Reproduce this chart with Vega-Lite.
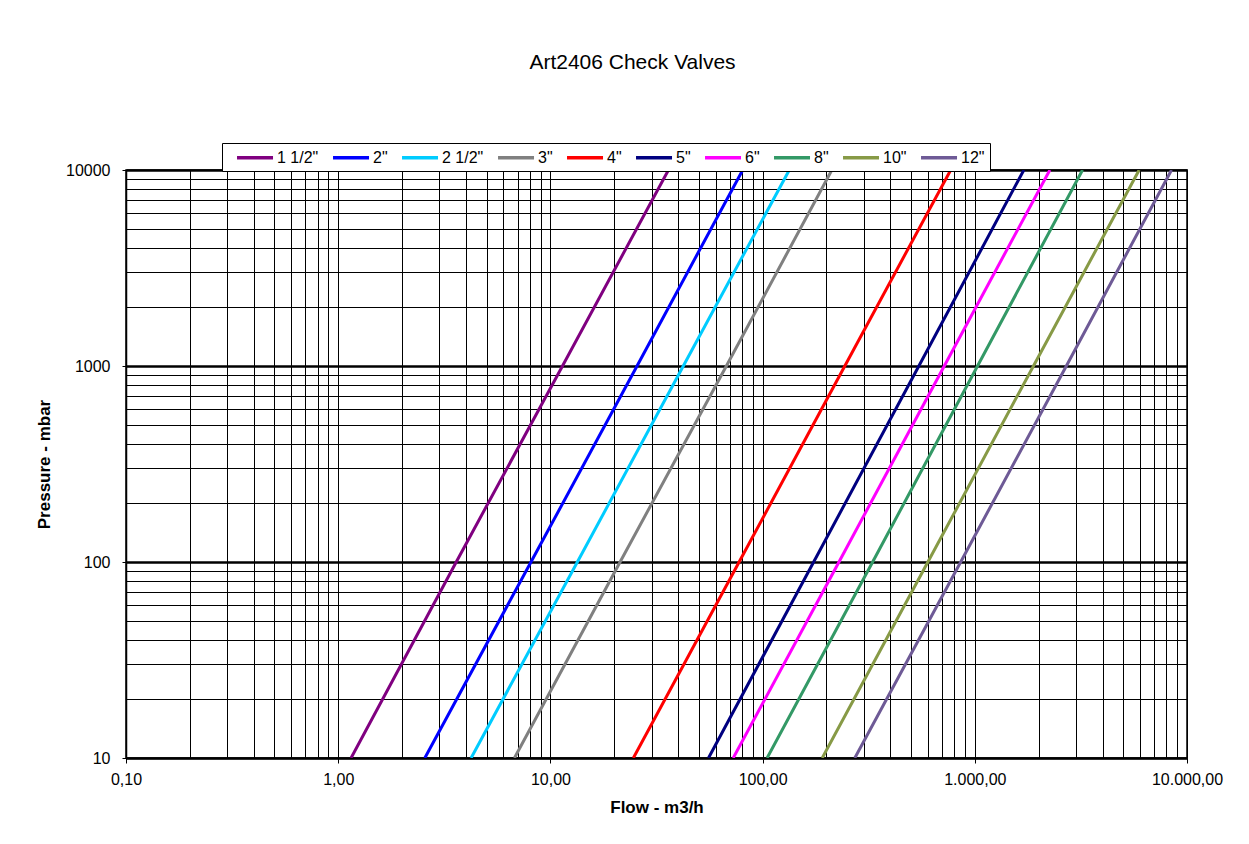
{
  "$schema": "https://vega.github.io/schema/vega-lite/v6.json",
  "width": 1061,
  "height": 588,
  "autosize": "none",
  "padding": {"left": 126, "top": 170, "right": 62, "bottom": 86},
  "background": "white",
  "title": {
    "text": "Art2406 Check Valves",
    "anchor": "middle",
    "frame": "group",
    "dx": -24,
    "offset": 70,
    "fontSize": 21,
    "fontWeight": "normal",
    "font": "Liberation Sans",
    "color": "black"
  },
  "data": {
    "values": [
      {"size": "1 1/2\"", "flow": 1.15, "pressure": 10},
      {"size": "1 1/2\"", "flow": 3.6, "pressure": 100},
      {"size": "1 1/2\"", "flow": 11.4, "pressure": 1000},
      {"size": "1 1/2\"", "flow": 36.0, "pressure": 10000},
      {"size": "2\"", "flow": 2.56, "pressure": 10},
      {"size": "2\"", "flow": 8.1, "pressure": 100},
      {"size": "2\"", "flow": 25.6, "pressure": 1000},
      {"size": "2\"", "flow": 80.6, "pressure": 10000},
      {"size": "2 1/2\"", "flow": 4.23, "pressure": 10},
      {"size": "2 1/2\"", "flow": 13.4, "pressure": 100},
      {"size": "2 1/2\"", "flow": 42.3, "pressure": 1000},
      {"size": "2 1/2\"", "flow": 133.6, "pressure": 10000},
      {"size": "3\"", "flow": 6.77, "pressure": 10},
      {"size": "3\"", "flow": 21.3, "pressure": 100},
      {"size": "3\"", "flow": 67.5, "pressure": 1000},
      {"size": "3\"", "flow": 212, "pressure": 10000},
      {"size": "4\"", "flow": 24.6, "pressure": 10},
      {"size": "4\"", "flow": 77.5, "pressure": 100},
      {"size": "4\"", "flow": 244, "pressure": 1000},
      {"size": "4\"", "flow": 770, "pressure": 10000},
      {"size": "5\"", "flow": 55.6, "pressure": 10},
      {"size": "5\"", "flow": 174, "pressure": 100},
      {"size": "5\"", "flow": 545, "pressure": 1000},
      {"size": "5\"", "flow": 1703, "pressure": 10000},
      {"size": "6\"", "flow": 72.7, "pressure": 10},
      {"size": "6\"", "flow": 229, "pressure": 100},
      {"size": "6\"", "flow": 718, "pressure": 1000},
      {"size": "6\"", "flow": 2258, "pressure": 10000},
      {"size": "8\"", "flow": 105, "pressure": 10},
      {"size": "8\"", "flow": 330, "pressure": 100},
      {"size": "8\"", "flow": 1030, "pressure": 1000},
      {"size": "8\"", "flow": 3219, "pressure": 10000},
      {"size": "10\"", "flow": 191, "pressure": 10},
      {"size": "10\"", "flow": 601, "pressure": 100},
      {"size": "10\"", "flow": 1890, "pressure": 1000},
      {"size": "10\"", "flow": 5949, "pressure": 10000},
      {"size": "12\"", "flow": 272, "pressure": 10},
      {"size": "12\"", "flow": 858, "pressure": 100},
      {"size": "12\"", "flow": 2700, "pressure": 1000},
      {"size": "12\"", "flow": 8453, "pressure": 10000}
    ]
  },
  "mark": {"type": "line", "strokeWidth": 3, "clip": true},
  "encoding": {
    "x": {
      "field": "flow",
      "type": "quantitative",
      "scale": {"type": "log", "domain": [0.1, 10000], "nice": false},
      "axis": {
        "title": "Flow - m3/h",
        "titleFont": "Liberation Sans",
        "titleFontSize": 17,
        "titleFontWeight": "bold",
        "titleColor": "black",
        "titlePadding": 12,
        "values": [0.1, 0.2, 0.3, 0.4, 0.5, 0.6, 0.7, 0.8, 0.9, 1, 2, 3, 4, 5, 6, 7, 8, 9, 10, 20, 30, 40, 50, 60, 70, 80, 90, 100, 200, 300, 400, 500, 600, 700, 800, 900, 1000, 2000, 3000, 4000, 5000, 6000, 7000, 8000, 9000, 10000],
        "labelExpr": "datum.value == 0.1 ? '0,10' : datum.value == 1 ? '1,00' : datum.value == 10 ? '10,00' : datum.value == 100 ? '100,00' : datum.value == 1000 ? '1.000,00' : datum.value == 10000 ? '10.000,00' : ''",
        "labelFont": "Liberation Sans",
        "labelFontSize": 16,
        "labelColor": "black",
        "labelPadding": 8,
        "labelFlush": false,
        "labelOverlap": false,
        "labelBound": false,
        "grid": true,
        "gridColor": "black",
        "gridOpacity": 1,
        "gridWidth": 1,
        "domain": true,
        "domainColor": "black",
        "domainWidth": 1.5,
        "tickColor": "black",
        "tickSize": 5,
        "tickOpacity": {"condition": {"test": "indexof([0.1,1,10,100,1000,10000], datum.value) >= 0", "value": 1}, "value": 0}
      }
    },
    "y": {
      "field": "pressure",
      "type": "quantitative",
      "scale": {"type": "log", "domain": [10, 10000], "nice": false},
      "axis": {
        "title": "Pressure - mbar",
        "titleFont": "Liberation Sans",
        "titleFontSize": 17,
        "titleFontWeight": "bold",
        "titleColor": "black",
        "titlePadding": 12,
        "values": [10, 20, 30, 40, 50, 60, 70, 80, 90, 100, 200, 300, 400, 500, 600, 700, 800, 900, 1000, 2000, 3000, 4000, 5000, 6000, 7000, 8000, 9000, 10000],
        "labelExpr": "indexof([10,100,1000,10000], datum.value) >= 0 ? format(datum.value, 'd') : ''",
        "labelFont": "Liberation Sans",
        "labelFontSize": 16,
        "labelColor": "black",
        "labelPadding": 12,
        "labelOverlap": false,
        "labelBound": false,
        "labelFlush": false,
        "grid": true,
        "gridColor": "black",
        "gridOpacity": 1,
        "gridWidth": {"condition": {"test": "indexof([10,100,1000,10000], datum.value) >= 0", "value": 2.5}, "value": 1},
        "domain": true,
        "domainColor": "black",
        "domainWidth": 1.5,
        "tickColor": "black",
        "tickSize": 4,
        "tickOpacity": {"condition": {"test": "indexof([10,100,1000,10000], datum.value) >= 0", "value": 1}, "value": 0}
      }
    },
    "color": {
      "field": "size",
      "type": "nominal",
      "scale": {
        "domain": ["1 1/2\"", "2\"", "2 1/2\"", "3\"", "4\"", "5\"", "6\"", "8\"", "10\"", "12\""],
        "range": ["#800080", "#0000FF", "#00CCFF", "#808080", "#FF0000", "#000080", "#FF00FF", "#339966", "#879A46", "#6E5A96"]
      },
      "legend": {
        "title": null,
        "orient": "none",
        "legendX": 96,
        "legendY": -27,
        "direction": "horizontal",
        "columns": 10,
        "symbolType": "M0.07,0H4.87",
        "symbolSize": 225,
        "symbolStrokeWidth": 3.5,
        "labelOffset": 31,
        "columnPadding": 4,
        "labelFont": "Liberation Sans",
        "labelFontSize": 16,
        "labelColor": "black",
        "padding": 5,
        "strokeColor": "black",
        "fillColor": "white"
      }
    },
    "order": {"field": "pressure", "type": "quantitative"}
  },
  "config": {
    "view": {"stroke": "black", "strokeWidth": 1.5}
  }
}
